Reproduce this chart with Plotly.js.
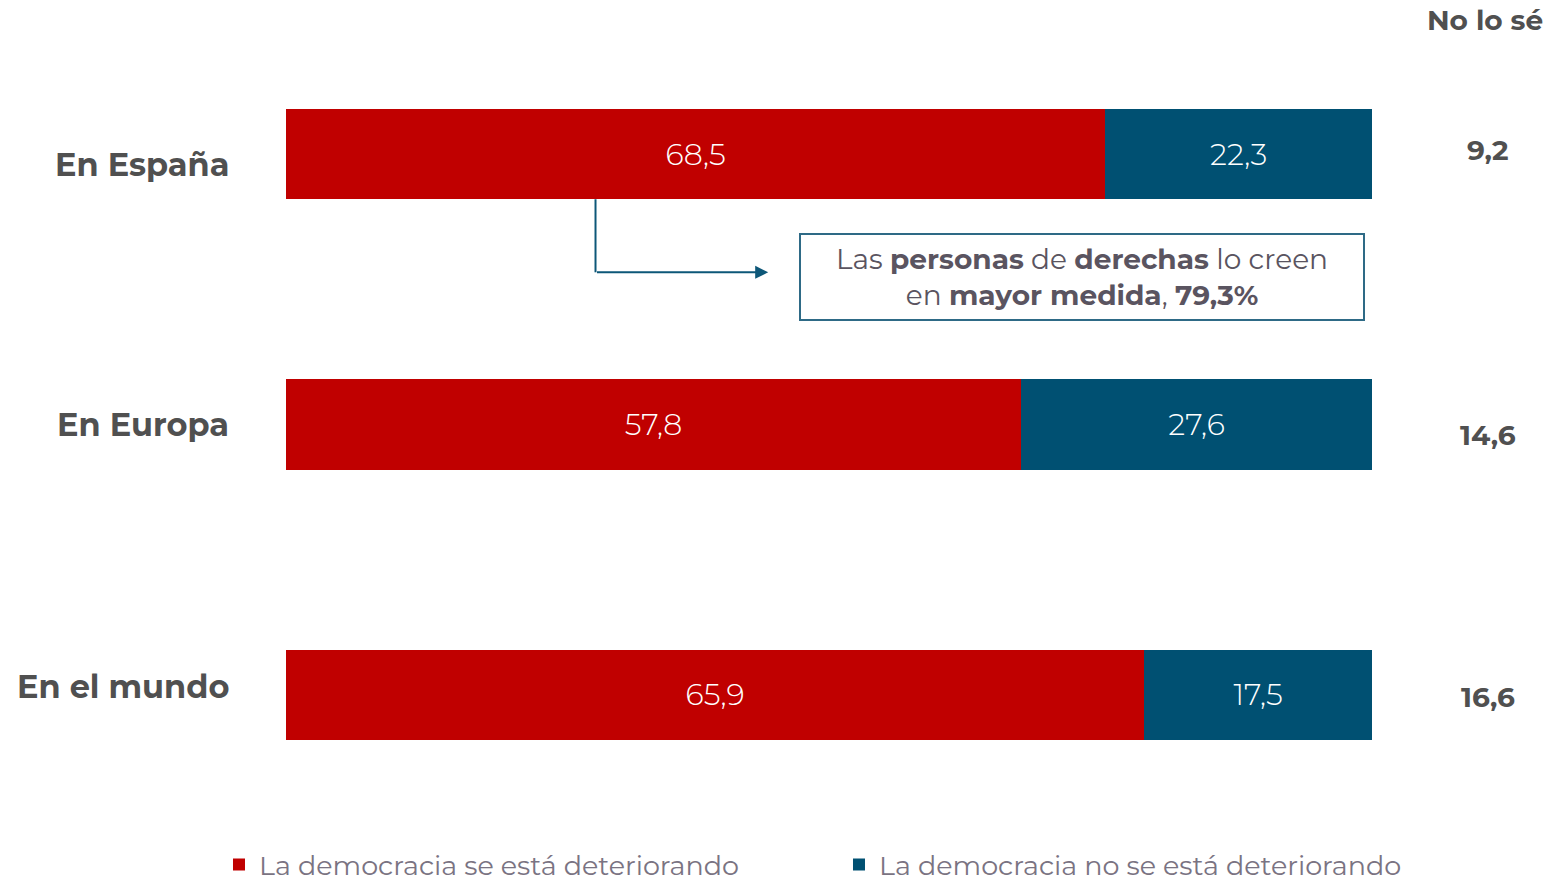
<!DOCTYPE html>
<html>
<head>
<meta charset="utf-8">
<script src="https://cdn.plot.ly/plotly-3.0.1.min.js"></script>
<style>html,body{margin:0;padding:0;background:#fff;}#chart{width:1557px;height:882px;}</style>
</head>
<body>
<div id="chart"></div>
<script>
const categories = ["En España", "En Europa", "En el mundo"];
const seDeteriora = [68.5, 57.8, 65.9];
const noSeDeteriora = [22.3, 27.6, 17.5];
const noLoSe = [9.2, 14.6, 16.6];
const seriesNames = ["La democracia se está deteriorando", "La democracia no se está deteriorando"];
const calloutText = "Las <b>personas</b> de <b>derechas</b> lo creen<br>en <b>mayor medida</b>, <b>79,3%</b>";
const noLoSeHeader = "No lo sé";

const FONT = "Montserrat, 'Open Sans', Lato, sans-serif";
const fmt = v => v.toFixed(1).replace('.', ',');

const traces = [
  {
    type: 'bar', orientation: 'h', name: seriesNames[0],
    y: categories, x: seDeteriora,
    text: seDeteriora.map(fmt), texttemplate: '%{text}',
    textposition: 'inside', insidetextanchor: 'middle',
    textfont: {family: FONT, size: 30, color: '#ffffff', weight: 300},
    marker: {color: '#C00000', line: {width: 0}},
    hoverinfo: 'skip'
  },
  {
    type: 'bar', orientation: 'h', name: seriesNames[1],
    y: categories, x: noSeDeteriora,
    text: noSeDeteriora.map(fmt), texttemplate: '%{text}',
    textposition: 'inside', insidetextanchor: 'middle',
    textfont: {family: FONT, size: 30, color: '#ffffff', weight: 300},
    marker: {color: '#005072', line: {width: 0}},
    hoverinfo: 'skip'
  }
];

const labelShift = [-10, 0, 8];
const nlsShift = [4, -10, -2];
const annotations = [];
categories.forEach((c, i) => {
  annotations.push({
    xref: 'paper', yref: 'y', x: -0.0507, y: c, xanchor: 'right', yanchor: 'middle',
    text: '<b>' + c + '</b>', showarrow: false, yshift: labelShift[i],
    font: {family: FONT, size: 32, color: '#505050'}
  });
  annotations.push({
    xref: 'paper', yref: 'y', x: 1.107, y: c, xanchor: 'center', yanchor: 'middle',
    text: '<b>' + fmt(noLoSe[i]) + '</b>', showarrow: false, yshift: nlsShift[i],
    font: {family: FONT, size: 28, color: '#505050'}
  });
});
annotations.push({
  xref: 'paper', yref: 'paper', x: 1.104, y: 0.9988, xanchor: 'center', yanchor: 'middle',
  text: '<b>' + noLoSeHeader + '</b>', showarrow: false,
  font: {family: FONT, size: 28, color: '#505050'}
});
// callout box
annotations.push({
  xref: 'x', yref: 'y', x: 73.25, y: 0.453, xanchor: 'center', yanchor: 'middle',
  text: calloutText, showarrow: false, align: 'center',
  width: 562, height: 84, borderpad: 0, borderwidth: 2, bordercolor: '#2e6a86',
  bgcolor: '#ffffff',
  font: {family: FONT, size: 28, color: '#5a5460'}
});
// arrow head on horizontal segment
annotations.push({
  xref: 'x', yref: 'y', axref: 'x', ayref: 'y',
  x: 44.4, y: 0.437, ax: 28.5, ay: 0.437,
  text: '', showarrow: true, arrowhead: 2, arrowsize: 1.3, arrowwidth: 2, arrowcolor: '#0d5778'
});

const layout = {
  width: 1557, height: 882,
  margin: {l: 286, r: 185, t: 19, b: 52, autoexpand: false},
  paper_bgcolor: '#ffffff', plot_bgcolor: '#ffffff',
  barmode: 'stack', barnorm: 'percent', bargap: 0.667,
  font: {family: FONT},
  xaxis: {range: [0, 100], visible: false, fixedrange: true},
  yaxis: {type: 'category', range: [2.5, -0.5], showticklabels: false, showgrid: false, zeroline: false, showline: false, ticks: '', fixedrange: true},
  showlegend: true,
  legend: {
    orientation: 'h', x: -0.0617, xanchor: 'left', y: -0.043, yanchor: 'middle',
    font: {family: FONT, size: 27, color: '#7a7382'},
    entrywidth: 575, entrywidthmode: 'pixels', traceorder: 'normal',
    bgcolor: 'rgba(0,0,0,0)'
  },
  shapes: [
    {type: 'line', xref: 'x', yref: 'y', x0: 28.5, x1: 28.5, y0: 0.1667, y1: 0.437, line: {color: '#0d5778', width: 2}}
  ],
  annotations: annotations
};

Plotly.newPlot('chart', traces, layout, {displayModeBar: false, staticPlot: true});
</script>
</body>
</html>
